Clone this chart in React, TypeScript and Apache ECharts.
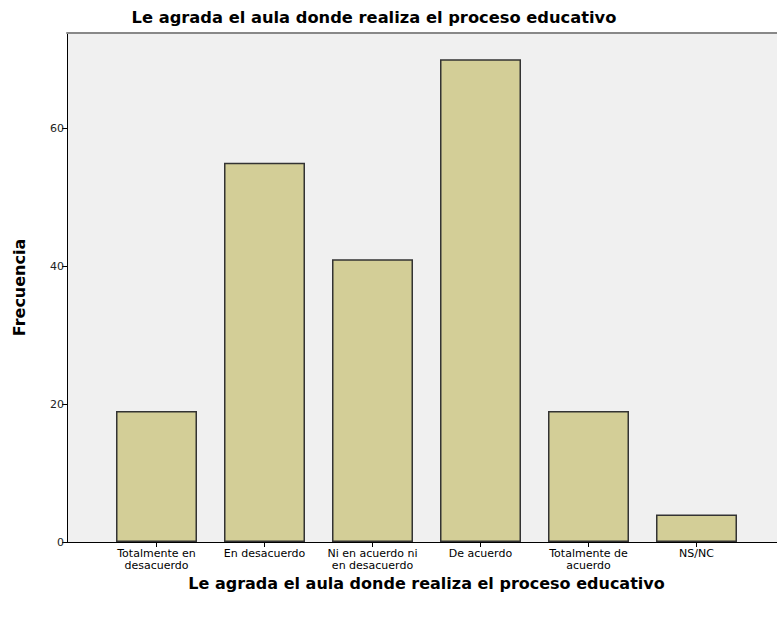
import React, { useEffect, useRef } from "react";
import * as echarts from "echarts";

const categories = [
  "Totalmente en\ndesacuerdo",
  "En desacuerdo",
  "Ni en acuerdo ni\nen desacuerdo",
  "De acuerdo",
  "Totalmente de\nacuerdo",
  "NS/NC",
];
const frecuencia = [19, 55, 41, 70, 19, 4];
const yTicks = [0, 20, 40, 60];
const yMax = 73.8;
const titleText = "Le agrada el aula donde realiza el proceso educativo";
const xName = "Le agrada el aula donde realiza el proceso educativo";
const yName = "Frecuencia";

export default function App() {
  const ref = useRef<HTMLDivElement>(null);
  useEffect(() => {
    const chart = echarts.init(ref.current!, null, { renderer: "svg" });
    const font = "'DejaVu Sans', sans-serif";
    chart.setOption({
      animation: false,
      backgroundColor: "#ffffff",
      textStyle: { fontFamily: font },
      title: {
        text: titleText,
        left: 369,
        top: 4,
        textAlign: "center",
        textStyle: { fontSize: 16.3, fontWeight: "bold", color: "#000", fontFamily: font },
      },
      grid: [
        { left: 67, top: 33, width: 730, bottom: 77, show: true, backgroundColor: "#f0f0f0", borderWidth: 0 },
        { left: 102.5, top: 33, width: 648, bottom: 77 },
      ],
      xAxis: [
        {
          type: "value", gridIndex: 0, position: "bottom", min: 0, max: 1,
          axisLine: { show: true, lineStyle: { color: "#000", width: 1 } },
          axisTick: { show: false }, axisLabel: { show: false }, splitLine: { show: false },
        },
        {
          type: "value", gridIndex: 0, position: "top", min: 0, max: 1,
          axisLine: { show: true, lineStyle: { color: "#888", width: 2 } },
          axisTick: { show: false }, axisLabel: { show: false }, splitLine: { show: false },
        },
        {
          type: "category", gridIndex: 1, data: categories,
          axisLine: { show: false },
          axisTick: { show: true, alignWithLabel: true, length: 5, lineStyle: { color: "#000" } },
          axisLabel: { color: "#000", fontSize: 11, lineHeight: 12, margin: 5, interval: 0, fontFamily: font },
          name: xName, nameLocation: "middle", nameGap: 18,
          nameTextStyle: { fontSize: 16, lineHeight: 14, fontWeight: "bold", color: "#000", fontFamily: font },
        },
      ],
      yAxis: [
        {
          type: "value", gridIndex: 0, min: 0, max: yMax, interval: 20,
          axisLine: { show: true, lineStyle: { color: "#000", width: 1 } },
          axisTick: { show: true, length: 5, customValues: yTicks, lineStyle: { color: "#000" } },
          axisLabel: {
            color: "#222", fontSize: 11, margin: 3, fontFamily: font, customValues: yTicks,
          },
          splitLine: { show: false },
          name: yName, nameLocation: "middle", nameGap: 40, nameRotate: 90,
          nameTextStyle: { fontSize: 16, fontWeight: "bold", color: "#000", fontFamily: font },
        },
        {
          type: "value", gridIndex: 1, min: 0, max: yMax, interval: 20, show: false,
        },
      ],
      series: [
        {
          type: "bar", xAxisIndex: 2, yAxisIndex: 1, data: frecuencia, barWidth: 81,
          itemStyle: { color: "#d3ce97", borderColor: "#333", borderWidth: 1.5 },
        },
      ],
    });
    return () => chart.dispose();
  }, []);
  return <div ref={ref} style={{ width: 777, height: 619, position: "absolute", left: 0, top: 0 }} />;
}
